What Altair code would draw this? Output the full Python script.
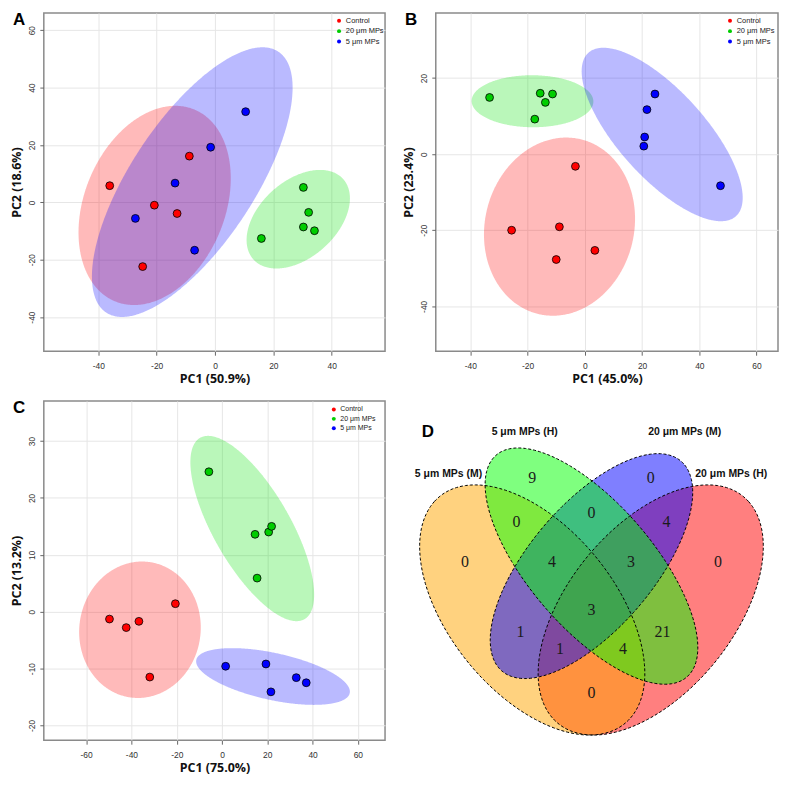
import numpy as np
import pandas as pd
import altair as alt

# ---------------- data ----------------
groups = ["Control", "20 μm MPs", "5 μm MPs"]
group_colors = ["#FF0000", "#00CD00", "#0000FF"]
ellipse_colors = ["#FF0000", "#00E000", "#0000FF"]

# Panel A (PC1 50.9 %, PC2 18.6 %)
a_control_pc1 = [-36.1, -8.8, -20.8, -13.0, -24.8]
a_control_pc2 = [5.8, 16.1, -1.0, -3.9, -22.4]
a_20um_pc1 = [30.3, 32.1, 30.3, 34.1, 15.9]
a_20um_pc2 = [5.2, -3.5, -8.6, -9.9, -12.6]
a_5um_pc1 = [10.5, -1.5, -13.7, -27.3, -7.0]
a_5um_pc2 = [31.6, 19.2, 6.7, -5.6, -16.7]

# Panel B (PC1 45.0 %, PC2 23.4 %)
b_control_pc1 = [-3.3, -25.6, -8.9, 3.5, -10.0]
b_control_pc2 = [-3.2, -20.0, -19.1, -25.3, -27.7]
b_20um_pc1 = [-33.3, -15.6, -11.3, -13.8, -17.5]
b_20um_pc2 = [14.9, 16.0, 15.8, 13.6, 9.2]
b_5um_pc1 = [24.5, 21.7, 20.9, 20.6, 47.4]
b_5um_pc2 = [15.8, 11.7, 4.5, 2.1, -8.3]

# Panel C (PC1 75.0 %, PC2 13.2 %)
c_control_pc1 = [-49.7, -42.3, -36.7, -20.6, -31.9]
c_control_pc2 = [-1.3, -2.8, -1.7, 1.4, -11.5]
c_20um_pc1 = [-5.8, 14.6, 20.6, 21.9, 15.5]
c_20um_pc2 = [24.6, 13.6, 14.0, 15.0, 5.9]
c_5um_pc1 = [1.6, 19.4, 32.8, 37.2, 21.6]
c_5um_pc2 = [-9.6, -9.2, -11.6, -12.5, -14.1]

# Panel D (Venn counts)
venn_sets = ["5 μm MPs (M)", "5 μm MPs (H)", "20 μm MPs (M)", "20 μm MPs (H)"]
venn_fills = ["#FFA500", "#00FF00", "#0000FF", "#FF0000"]
region_counts = [0, 9, 0, 0, 0, 0, 4, 4, 3, 3, 1, 21, 1, 4, 0]

# VennDiagram quad layout (npc units)
venn_cx = [0.35, 0.50, 0.50, 0.65]
venn_cy = [0.47, 0.57, 0.57, 0.47]
venn_a = [0.35, 0.35, 0.33, 0.35]
venn_b = [0.20, 0.15, 0.15, 0.20]
venn_rot = [135, 135, 45, 45]
venn_draw_order = [3, 0, 2, 1]
region_lx = [0.18, 0.35, 0.65, 0.82, 0.31, 0.50, 0.69, 0.40, 0.60, 0.50, 0.32, 0.68, 0.42, 0.58, 0.50]
region_ly = [0.58, 0.77, 0.77, 0.58, 0.67, 0.69, 0.67, 0.58, 0.58, 0.47, 0.42, 0.42, 0.38, 0.38, 0.28]
setlabel_x = [0.138, 0.331, 0.736, 0.854]
setlabel_y = [0.780, 0.875, 0.875, 0.780]

# ---------------- helpers ----------------
T95 = float(np.sqrt(-2.0 * np.log(0.05)))
FONT = "Liberation Sans"


def slice_ellipse(cx, cy, S, t, n=260):
    inv = np.linalg.inv(S)
    C, B, A = inv[0, 0], inv[0, 1], inv[1, 1]
    hw = t * np.sqrt(S[0, 0])
    th = np.linspace(np.pi, 0, n)
    dx = hw * np.cos(th)
    disc = np.clip(B * B * dx * dx - A * (C * dx * dx - t * t), 0, None)
    lo = (-B * dx - np.sqrt(disc)) / A
    hi = (-B * dx + np.sqrt(disc)) / A
    return pd.DataFrame({"x": cx + dx, "lo": cy + lo, "hi": cy + hi})


def conf_ellipse(xs, ys):
    pts = np.column_stack([xs, ys])
    m = pts.mean(axis=0)
    S = np.cov(pts.T)
    return slice_ellipse(m[0], m[1], S, T95)


def pca_panel(letter, data, xdom, ydom, xticks, yticks, xtitle, ytitle, w, h, leg_font, leg_dx, leg_dy):
    xs = alt.Scale(domain=xdom, nice=False, zero=False)
    ys = alt.Scale(domain=ydom, nice=False, zero=False)
    xaxis = alt.Axis(values=xticks, title=xtitle, grid=True, gridColor="#E6E6E6", domain=False,
                     tickColor="#666", tickSize=4, labelFontSize=8.5, labelFont=FONT, labelColor="#333",
                     labelPadding=6, labelExpr="'' + datum.value", titleFont="Open Sans",
                     titleFontSize=12.5, titleFontWeight="bold", titleColor="#111", titlePadding=3)
    yaxis = alt.Axis(values=yticks, title=ytitle, grid=True, gridColor="#E6E6E6", domain=False,
                     tickColor="#666", tickSize=4, labelFontSize=8.5, labelFont=FONT, labelColor="#333",
                     labelPadding=3, labelAngle=-90, labelAlign="center", labelBaseline="bottom",
                     labelExpr="'' + datum.value", titleFont="Open Sans", titleFontSize=12.5,
                     titleFontWeight="bold", titleColor="#111", titlePadding=4)
    layers = []
    rows = []
    for gi, g in enumerate(groups):
        px, py = data[gi]
        edf = conf_ellipse(px, py)
        layers.append(
            alt.Chart(edf).mark_area(color=ellipse_colors[gi], fillOpacity=0.27, clip=True).encode(
                x=alt.X("x:Q", scale=xs, axis=xaxis),
                y=alt.Y("lo:Q", scale=ys, axis=yaxis),
                y2="hi:Q",
            )
        )
        for a, b in zip(px, py):
            rows.append({"pc1": a, "pc2": b, "group": g})
    pts = pd.DataFrame(rows)
    layers.append(
        alt.Chart(pts).mark_circle(size=62, opacity=1, stroke="black", strokeWidth=0.8).encode(
            x=alt.X("pc1:Q", scale=xs, axis=xaxis),
            y=alt.Y("pc2:Q", scale=ys, axis=yaxis),
            color=alt.Color("group:N", scale=alt.Scale(domain=groups, range=group_colors),
                            legend=alt.Legend(title=None, orient="none", legendX=w - leg_dx, legendY=leg_dy,
                                              padding=0, labelFontSize=leg_font, labelFont=FONT,
                                              labelColor="#222", symbolType="circle", symbolSize=16,
                                              symbolStrokeWidth=0, symbolOpacity=1, rowPadding=1.5,
                                              labelOffset=3)),
        )
    )
    layers.append(
        alt.Chart(pd.DataFrame({"t": [letter]})).mark_text(
            align="left", baseline="top", fontSize=17, fontWeight="bold", font=FONT, color="#000"
        ).encode(text="t:N", x=alt.value(-31), y=alt.value(-1))
    )
    return alt.layer(*layers).properties(width=w, height=h)


# ---------------- panels ----------------
WA, WB, H1, H2 = 343, 344, 340, 341
panel_a = pca_panel("A", [(a_control_pc1, a_control_pc2), (a_20um_pc1, a_20um_pc2), (a_5um_pc1, a_5um_pc2)],
                    [-58.7, 58.3], [-51.9, 66.0], [-40, -20, 0, 20, 40], [-40, -20, 0, 20, 40, 60],
                    "PC1 (50.9%)", "PC2 (18.6%)", WA, H1, 7.5, 50, 4)
panel_b = pca_panel("B", [(b_control_pc1, b_control_pc2), (b_20um_pc1, b_20um_pc2), (b_5um_pc1, b_5um_pc2)],
                    [-52.1, 67.5], [-51.8, 37.1], [-40, -20, 0, 20, 40, 60], [-40, -20, 0, 20],
                    "PC1 (45.0%)", "PC2 (23.4%)", WB, H1, 7.5, 52, 4)
panel_c = pca_panel("C", [(c_control_pc1, c_control_pc2), (c_20um_pc1, c_20um_pc2), (c_5um_pc1, c_5um_pc2)],
                    [-78.7, 72.0], [-22.6, 37.05], [-60, -40, -20, 0, 20, 40, 60], [-20, -10, 0, 10, 20, 30],
                    "PC1 (75.0%)", "PC2 (13.2%)", WA, H2, 7, 55, 5)

# Venn panel
DW, DH = 384, H2 + 35
SX, SY = 397.0, 441.0          # px per npc unit
CXP, CYP = 197.5, 166.0        # pixel position of (0.5, 0.57) inside the panel
dx_dom = [0.5 - CXP / SX, 0.5 + (DW - CXP) / SX]
dy_dom = [0.57 - (DH - CYP) / SY, 0.57 + CYP / SY]
vx = alt.Scale(domain=dx_dom, nice=False, zero=False)
vy = alt.Scale(domain=dy_dom, nice=False, zero=False)

venn_layers = []
outline_rows = []
for k in venn_draw_order:
    r = np.deg2rad(venn_rot[k])
    R = np.array([[np.cos(r), -np.sin(r)], [np.sin(r), np.cos(r)]])
    S = R @ np.diag([venn_a[k] ** 2, venn_b[k] ** 2]) @ R.T
    edf = slice_ellipse(venn_cx[k], venn_cy[k], S, 1.0)
    venn_layers.append(
        alt.Chart(edf).mark_area(color=venn_fills[k], fillOpacity=0.5).encode(
            x=alt.X("x:Q", scale=vx, axis=None),
            y=alt.Y("lo:Q", scale=vy, axis=None),
            y2="hi:Q",
        )
    )
for k in range(4):
    r = np.deg2rad(venn_rot[k])
    tt = np.linspace(0, 2 * np.pi, 241)
    ex = venn_cx[k] + venn_a[k] * np.cos(tt) * np.cos(r) - venn_b[k] * np.sin(tt) * np.sin(r)
    ey = venn_cy[k] + venn_a[k] * np.cos(tt) * np.sin(r) + venn_b[k] * np.sin(tt) * np.cos(r)
    for i, (a, b) in enumerate(zip(ex, ey)):
        outline_rows.append({"x": a, "y": b, "i": i, "set": venn_sets[k]})
venn_layers.append(
    alt.Chart(pd.DataFrame(outline_rows)).mark_line(color="#000", strokeWidth=1, strokeDash=[3, 2]).encode(
        x=alt.X("x:Q", scale=vx, axis=None),
        y=alt.Y("y:Q", scale=vy, axis=None),
        detail="set:N",
        order="i:Q",
    )
)
venn_layers.append(
    alt.Chart(pd.DataFrame({"x": region_lx, "y": region_ly, "n": [str(v) for v in region_counts]})).mark_text(
        font="Liberation Serif", fontSize=16, color="#1a1a1a", baseline="middle", align="center"
    ).encode(x=alt.X("x:Q", scale=vx, axis=None), y=alt.Y("y:Q", scale=vy, axis=None), text="n:N")
)
venn_layers.append(
    alt.Chart(pd.DataFrame({"x": setlabel_x, "y": setlabel_y, "s": venn_sets})).mark_text(
        font=FONT, fontSize=10.5, fontWeight="bold", color="#111", baseline="middle", align="center"
    ).encode(x=alt.X("x:Q", scale=vx, axis=None), y=alt.Y("y:Q", scale=vy, axis=None), text="s:N")
)
venn_layers.append(
    alt.Chart(pd.DataFrame({"t": ["D"]})).mark_text(
        align="left", baseline="top", fontSize=17, fontWeight="bold", font=FONT, color="#000"
    ).encode(text="t:N", x=alt.value(27), y=alt.value(23))
)
panel_d = alt.layer(*venn_layers).properties(width=DW, height=DH, view=alt.ViewBackground(stroke="transparent"))

row1 = alt.hconcat(panel_a, panel_b, spacing=16).resolve_scale(color="independent").resolve_legend(color="independent")
row2 = alt.hconcat(panel_c, panel_d, spacing=8).resolve_scale(color="independent").resolve_legend(color="independent")
chart = alt.vconcat(row1, row2, spacing=12).resolve_scale(color="independent").resolve_legend(
    color="independent"
).properties(padding={"left": 2, "top": 0, "right": 0, "bottom": 0}).configure_view(
    stroke="#8a8a8a", strokeWidth=1.5
)

chart.save("out.html", embed_options={"renderer": "svg", "actions": False})
